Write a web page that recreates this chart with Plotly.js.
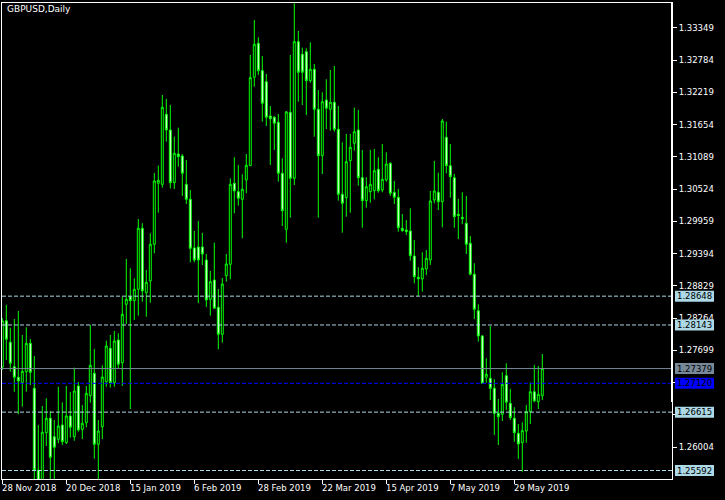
<!DOCTYPE html>
<html><head><meta charset="utf-8">
<script src="https://cdn.plot.ly/plotly-3.0.1.min.js"></script>
<style>html,body{margin:0;padding:0;background:#000;} #chart{width:725px;height:500px;}</style>
</head><body><div id="chart"></div>
<script>
const chartTitle = 'GBPUSD,Daily';

const openP = [1.27406,1.28218,1.27840,1.27412,1.27226,1.27131,1.27324,1.27822,1.27033,1.25601,
1.25410,1.26255,1.26507,1.26185,1.26139,1.26390,1.26080,1.26548,1.26185,1.27073,
1.26314,1.26430,1.26903,1.27296,1.26051,1.26360,1.27149,1.27734,1.27131,1.27880,
1.27482,1.28506,1.28639,1.28569,1.28769,1.29838,1.28709,1.28914,1.29557,1.30627,
1.30609,1.31836,1.31561,1.30637,1.31140,1.31105,1.30609,1.30346,1.29493,1.29510,
1.29510,1.29282,1.28593,1.28932,1.28453,1.27980,1.29007,1.29207,1.30627,1.30480,
1.30346,1.30685,1.30935,1.32485,1.33081,1.32601,1.32408,1.31807,1.31784,1.31696,
1.30802,1.29820,1.31871,1.30714,1.33109,1.32888,1.32934,1.32425,1.32625,1.31924,
1.31111,1.32087,1.31924,1.32047,1.31573,1.30434,1.30374,1.31023,1.31328,1.31561,
1.30725,1.30322,1.30480,1.30497,1.30872,1.30509,1.30685,1.30977,1.30469,1.30381,
1.29838,1.29808,1.29791,1.29352,1.28979,1.28949,1.29124,1.29282,1.30334,1.30469,
1.30304,1.31433,1.30935,1.30725,1.30083,1.30031,1.29926,1.29575,1.29032,1.28393,
1.27950,1.27226,1.27208,1.27033,1.26595,1.26577,1.27254,1.26770,1.26507,1.26244,
1.26080,1.26285,1.26623,1.26973,1.26798,1.26903];

const highP = [1.28265,1.28493,1.28095,1.28248,1.28388,1.27967,1.28102,1.27897,1.27599,1.26390,
1.26723,1.26858,1.26635,1.26477,1.27061,1.26788,1.27073,1.26968,1.27394,1.27144,
1.26740,1.27073,1.28143,1.27722,1.26477,1.27436,1.27868,1.27967,1.28038,1.27997,
1.28639,1.29300,1.29137,1.28961,1.30001,1.29926,1.29107,1.29750,1.30807,1.30935,
1.32175,1.32105,1.31999,1.31444,1.31601,1.31140,1.31035,1.30509,1.29791,1.29966,
1.29756,1.29387,1.29089,1.29585,1.28774,1.28967,1.29387,1.30714,1.31083,1.30948,
1.30785,1.31140,1.32876,1.33489,1.33186,1.32858,1.32543,1.31982,1.31807,1.31842,
1.31065,1.31894,1.32876,1.33782,1.33297,1.33004,1.32993,1.33099,1.32718,1.32262,
1.32222,1.32450,1.32613,1.32683,1.31982,1.31345,1.31491,1.31491,1.31952,1.31912,
1.31211,1.30732,1.31211,1.31228,1.31083,1.31316,1.31170,1.30995,1.30667,1.30527,
1.30089,1.29983,1.30189,1.29633,1.29154,1.29417,1.29458,1.30492,1.31018,1.30813,
1.31754,1.31707,1.31316,1.30790,1.30352,1.30469,1.30404,1.29703,1.29224,1.28506,
1.27967,1.27559,1.28125,1.27191,1.26846,1.27314,1.27471,1.27021,1.26700,1.26407,
1.26437,1.26740,1.27138,1.27442,1.27424,1.27634];

const lowP = [1.27354,1.27529,1.27324,1.26973,1.26577,1.26711,1.26973,1.27091,1.25300,1.25250,
1.25330,1.26022,1.25380,1.25350,1.26069,1.26039,1.26057,1.26167,1.26114,1.26272,
1.26144,1.26349,1.26781,1.25799,1.25420,1.26144,1.27061,1.27044,1.27061,1.27384,
1.27073,1.28160,1.26670,1.28230,1.28306,1.28551,1.28288,1.28534,1.29400,1.30111,
1.30550,1.31356,1.30539,1.30527,1.30918,1.30404,1.30264,1.29242,1.29242,1.28528,
1.29195,1.28458,1.28306,1.28430,1.27717,1.27833,1.28902,1.28944,1.30101,1.30234,
1.29663,1.30452,1.30930,1.32320,1.32525,1.31707,1.31631,1.30948,1.31211,1.30655,
1.29878,1.29585,1.30024,1.30597,1.32057,1.31999,1.31824,1.32390,1.31444,1.30024,
1.30790,1.31579,1.31549,1.31531,1.30322,1.29761,1.30041,1.30111,1.31198,1.30585,
1.29848,1.30199,1.30287,1.30346,1.30462,1.30469,1.30655,1.30404,1.30264,1.29778,
1.29778,1.29720,1.29270,1.28874,1.28651,1.28727,1.29019,1.29195,1.30276,1.30159,
1.29855,1.30802,1.30374,1.29848,1.29650,1.29908,1.29387,1.29014,1.28248,1.27850,
1.27117,1.27131,1.26828,1.26214,1.26039,1.26460,1.26653,1.26477,1.26097,1.25794,
1.25571,1.26080,1.26407,1.26788,1.26670,1.26828];

const closeP = [1.28213,1.27892,1.27471,1.27226,1.27161,1.27331,1.27822,1.27314,1.25601,1.25400,
1.26262,1.26507,1.25824,1.25999,1.26372,1.26097,1.26548,1.26349,1.26986,1.26302,
1.26420,1.26945,1.27436,1.26051,1.26285,1.27231,1.27775,1.27131,1.27862,1.27454,
1.28330,1.28593,1.28569,1.28769,1.29838,1.28739,1.28891,1.29557,1.30667,1.30679,
1.31959,1.31561,1.30637,1.31153,1.31093,1.30802,1.30346,1.29487,1.29282,1.29282,
1.29387,1.28581,1.28902,1.28436,1.27980,1.28862,1.29212,1.30609,1.30492,1.30364,
1.30522,1.30942,1.32478,1.33063,1.32601,1.32029,1.31784,1.31759,1.31679,1.30802,
1.30146,1.31877,1.30714,1.33109,1.32573,1.32573,1.32425,1.32625,1.31924,1.31111,
1.32057,1.31942,1.32047,1.31573,1.30434,1.30276,1.31005,1.31258,1.31531,1.30725,
1.30322,1.30567,1.30609,1.30848,1.30497,1.30697,1.30965,1.30452,1.30381,1.29848,
1.29796,1.29778,1.29358,1.28989,1.28954,1.29137,1.29312,1.30317,1.30492,1.30304,
1.31719,1.30935,1.30743,1.30041,1.30059,1.30006,1.29557,1.29032,1.28418,1.27950,
1.27121,1.27279,1.27033,1.26595,1.26535,1.27103,1.26788,1.26518,1.26255,1.26057,
1.26290,1.26623,1.26973,1.26811,1.26928,1.27379];

const xTickIdx = [0,16,32,48,64,80,96,112,128];
const xTickText = ['28 Nov 2018','20 Dec 2018','15 Jan 2019','6 Feb 2019','28 Feb 2019','22 Mar 2019','15 Apr 2019','7 May 2019','29 May 2019'];
const yTicks = [1.33349,1.32784,1.32219,1.31654,1.31089,1.30524,1.29959,1.29394,1.28829,1.28264,1.27699,1.27134,1.26569,1.26004];
// tick labels that sit fully under a price-level box in the reference
const yTicksHidden = [1.27134,1.26569];
const dashedLevels = [1.28648,1.28143,1.26615,1.25592];
const bidLevel = 1.27379;
const blueLevel = 1.27120;

const xIdx = openP.map((_, i) => i);

const FONT = 'DejaVu Sans';
const W = 725, H = 500, ML = 2, MR = 53, MT = 3, MB = 21;
const PW = W - ML - MR, PH = H - MT - MB;
const px2paperX = px => (px - ML) / PW;
const px2paperY = py => (H - MB - py) / PH;

const shapes = [];
const annotations = [];

function levelBox(level, fill, textColor) {
  shapes.push({type:'rect', layer:'above', xref:'paper', yref:'y', ysizemode:'pixel', yanchor:level,
    x0: px2paperX(675), x1: px2paperX(714), y0:-5.5, y1:5.5, fillcolor:fill, line:{width:0}});
  annotations.push({xref:'paper', yref:'y', x: px2paperX(675), y: level, xanchor:'left', yanchor:'middle',
    xshift:0, text: level.toFixed(5), showarrow:false, font:{family:FONT, size:8.5, color:textColor}});
}

dashedLevels.forEach(l => {
  shapes.push({type:'line', layer:'above', xref:'paper', yref:'y', x0:0, x1:1, y0:l, y1:l,
    line:{color:'#ADD8E6', width:1, dash:'4px,2px'}});
});
shapes.push({type:'line', layer:'above', xref:'paper', yref:'y', x0:-0.003, x1:1, y0:bidLevel, y1:bidLevel,
  line:{color:'#778899', width:1}});
shapes.push({type:'line', layer:'above', xref:'paper', yref:'y', x0:0, x1:1, y0:blueLevel, y1:blueLevel,
  line:{color:'#0000FF', width:1, dash:'4px,2px'}});
shapes.push({type:'line', layer:'above', xref:'paper', yref:'paper', x0:1, x1:1, y0:px2paperY(402), y1:1,
  line:{color:'#FFFFFF', width:2}});

dashedLevels.forEach(l => levelBox(l, '#ADD8E6', '#000000'));
levelBox(bidLevel, '#778899', '#000000');
levelBox(blueLevel, '#0000FF', '#000000');

xTickIdx.forEach((xi, i) => {
  annotations.push({xref:'x', yref:'paper', x: xi, y: px2paperY(488), xanchor:'left', yanchor:'middle',
    xshift:-2, text: xTickText[i], showarrow:false, font:{family:FONT, size:8.5, color:'#FFFFFF'}});
});
annotations.push({xref:'paper', yref:'paper', x: px2paperX(7), y: px2paperY(9), xanchor:'left', yanchor:'middle',
  xshift:-2, text: chartTitle, showarrow:false, font:{family:FONT, size:9, color:'#FFFFFF'}});

const trace = {
  type:'candlestick', x:xIdx, open:openP, high:highP, low:lowP, close:closeP,
  increasing:{line:{color:'#00FF00', width:1}, fillcolor:'#000000'},
  decreasing:{line:{color:'#00FF00', width:1}, fillcolor:'#FFFFFF'},
  whiskerwidth:0, hoverinfo:'skip', showlegend:false
};

const layout = {
  width:W, height:H,
  margin:{l:ML, r:MR, t:MT, b:MB, pad:0},
  paper_bgcolor:'#000000', plot_bgcolor:'#000000',
  showlegend:false,
  xaxis:{range:[-0.075, -0.075 + PW/4], tickvals:xTickIdx, showticklabels:false,
    ticks:'outside', ticklen:4, tickcolor:'#FFFFFF', tickwidth:1,
    showline:true, linecolor:'#FFFFFF', linewidth:1, mirror:true,
    showgrid:false, zeroline:false, rangeslider:{visible:false}, fixedrange:true},
  yaxis:{side:'right', range:[1.25443, 1.33787], tickvals:yTicks,
    ticktext:yTicks.map(v => yTicksHidden.includes(v) ? '' : v.toFixed(5)),
    ticks:'outside', ticklen:4, tickcolor:'#FFFFFF', tickwidth:1,
    tickfont:{family:FONT, size:8.5, color:'#FFFFFF'},
    showline:true, linecolor:'#FFFFFF', linewidth:1, mirror:true,
    showgrid:false, zeroline:false, fixedrange:true},
  shapes, annotations
};

Plotly.newPlot('chart', [trace], layout, {staticPlot:true, displayModeBar:false});
</script></body></html>
